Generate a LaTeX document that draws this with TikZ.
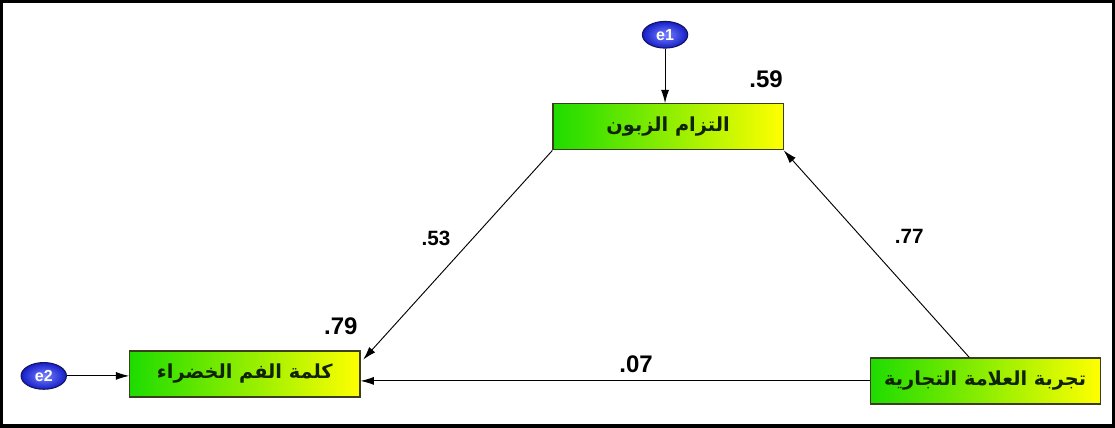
\documentclass[tikz,border=0pt]{standalone}
\usepackage{fontspec}
\setmainfont{Liberation Sans}
\newfontfamily\arabicfont[Script=Arabic]{DejaVu Sans}
\TeXXeTstate=1
\usetikzlibrary{arrows.meta,shapes.geometric}
\begin{document}
\begin{tikzpicture}[x=0.75pt,y=-0.75pt,
  varbox/.style={draw={rgb,255:red,60;green,60;blue,30},line width=0.9pt,
    left color={rgb,255:red,30;green,220;blue,0},middle color={rgb,255:red,190;green,245;blue,0},
    right color={rgb,255:red,255;green,255;blue,0},
    minimum width=172.5pt,minimum height=34.5pt,inner sep=0pt,
    font=\arabicfont\bfseries\fontsize{14.5}{16}\selectfont,text={rgb,255:red,15;green,35;blue,5}},
  errnode/.style={ellipse,draw={rgb,255:red,20;green,20;blue,90},line width=0.8pt,
    inner color={rgb,255:red,120;green,130;blue,255},outer color={rgb,255:red,20;green,30;blue,200},
    minimum width=34pt,minimum height=20pt,inner sep=0pt,
    font=\bfseries\fontsize{12}{14}\selectfont,text=white},
  coef/.style={font=\bfseries\fontsize{15.5}{17}\selectfont,inner sep=0pt},
  rsq/.style={font=\bfseries\fontsize{18}{20}\selectfont,inner sep=0pt},
  path/.style={draw,line width=0.7pt,-{Latex[length=10pt,width=6pt]}}]
% frame
\draw[line width=2.6pt,fill=white] (2,2) rectangle (1113,426);
% variables
\node[varbox] (cust) at (668,127) {\beginR التزام الزبون\endR};
\node[varbox] (wom) at (245,374) {\beginR كلمة الفم الخضراء\endR};
\node[varbox] (brand) at (985,381) {\beginR تجربة العلامة التجارية\endR};
% error terms
\node[errnode] (e1) at (665,35) {e1};
\node[errnode] (e2) at (44,376) {e2};
% squared multiple correlations
\node[rsq] (r1) at (766,79) {.59};
\node[rsq] (r2) at (341,326) {.79};
% paths
\draw[path] (e1) -- (e1 |- cust.north);
\draw[path] (e2) -- (e2 -| wom.west);
\draw[path] (cust.south west) -- ([xshift=2pt,yshift=-7pt]wom.north east);
\draw[path] ([xshift=-12pt]brand.north) -- (cust.south east);
\draw[path] (brand.west) -- (brand.west -| wom.east);
% path coefficients
\node[coef] (c53) at (436,239) {.53};
\node[coef] (c77) at (909,237) {.77};
\node[rsq] (c07) at (636,364) {.07};
\end{tikzpicture}
\end{document}
